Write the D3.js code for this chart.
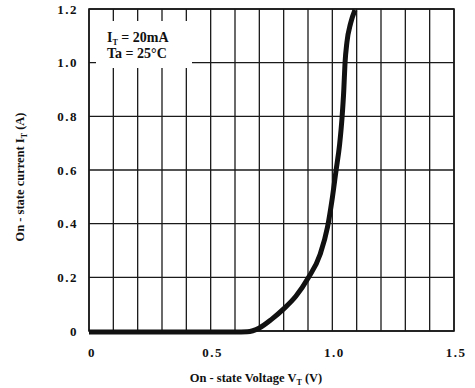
<!DOCTYPE html>
<html><head><meta charset="utf-8">
<script src="https://cdn.jsdelivr.net/npm/d3@7"></script>
<style>
html,body{margin:0;padding:0;background:#fff;}
</style></head>
<body>
<svg id="chart" width="475" height="388"></svg>
<script>
const voltage = [0, 0.3, 0.6, 0.65, 0.70, 0.75, 0.80, 0.85, 0.90, 0.95, 0.98, 1.00, 1.015, 1.03, 1.04, 1.047, 1.052, 1.06, 1.075, 1.093];
const current = [0, 0, 0, 0.001, 0.015, 0.047, 0.086, 0.133, 0.20, 0.29, 0.39, 0.50, 0.60, 0.70, 0.80, 0.90, 1.00, 1.08, 1.15, 1.20];
const xGrid = [0,0.1,0.2,0.3,0.4,0.5,0.6,0.7,0.8,0.9,1.0,1.1,1.2,1.3,1.4,1.5];
const yGrid = [0,0.2,0.4,0.6,0.8,1.0,1.2];
const xTickLabels = ["0","0.5","1.0","1.5"];
const xTickValues = [0,0.5,1.0,1.5];
const yTickLabels = ["0","0.2","0.4","0.6","0.8","1.0","1.2"];

const FONT = "'Liberation Serif', 'DejaVu Serif', 'Times New Roman', Times, serif";
const svg = d3.select("#chart");
const L=89, R=454, T=9, B=331;
const x = d3.scaleLinear().domain([0,1.5]).range([L,R]);
const y = d3.scaleLinear().domain([0,1.2]).range([B,T]);

const ink = "#1a1a1a";
svg.append("g").selectAll("line").data(xGrid).join("line")
  .attr("x1",d=>x(d)).attr("x2",d=>x(d)).attr("y1",T).attr("y2",B)
  .attr("stroke",ink).attr("stroke-width",1.3);
svg.append("g").selectAll("line").data(yGrid).join("line")
  .attr("x1",L).attr("x2",R).attr("y1",d=>y(d)).attr("y2",d=>y(d))
  .attr("stroke",ink).attr("stroke-width",1.3);
svg.append("rect").attr("x",L).attr("y",T).attr("width",R-L).attr("height",B-T)
  .attr("fill","none").attr("stroke",ink).attr("stroke-width",1.6);

svg.append("rect").attr("x",96).attr("y",21).attr("width",96).attr("height",47).attr("fill","#fff");
const ann = svg.append("text").attr("x",107).attr("y",42).attr("font-size",14)
  .attr("font-family",FONT).attr("font-weight","bold").attr("fill","#111");
ann.append("tspan").text("I");
ann.append("tspan").attr("font-size",8).attr("dy",3).text("T");
ann.append("tspan").attr("dy",-3).text(" = 20mA");
svg.append("text").attr("x",107).attr("y",58).attr("font-size",14)
  .attr("font-family",FONT).attr("font-weight","bold").attr("fill","#111").text("Ta = 25°C");

const pts = voltage.map((v,i)=>[v,current[i]]);
svg.append("path").datum(pts)
  .attr("d", d3.line().x(d=>x(d[0])).y(d=>y(d[1])+1).curve(d3.curveMonotoneX))
  .attr("fill","none").attr("stroke","#111").attr("stroke-width",5);

svg.append("g").selectAll("text").data(yGrid).join("text")
  .attr("x",78).attr("y",d=>y(d)+4.5).attr("text-anchor","end")
  .attr("font-family",FONT).attr("font-weight","bold").attr("fill","#111")
  .attr("font-size",13).attr("letter-spacing",1.5)
  .text((d,i)=>yTickLabels[i]);
svg.append("g").selectAll("text").data(xTickValues).join("text")
  .attr("x",(d,i)=>x(d)+(i===0?3:2)).attr("y",357).attr("text-anchor","middle")
  .attr("font-family",FONT).attr("font-weight","bold").attr("fill","#111")
  .attr("font-size",13).attr("letter-spacing",1.5)
  .text((d,i)=>xTickLabels[i]);

const xt = svg.append("text").attr("x",256).attr("y",382).attr("text-anchor","middle").attr("font-size",12.5)
  .attr("font-family",FONT).attr("font-weight","bold").attr("fill","#111");
xt.append("tspan").text("On - state Voltage V");
xt.append("tspan").attr("font-size",8).attr("dy",3).text("T");
xt.append("tspan").attr("dy",-3).text(" (V)");

const yt = svg.append("text").attr("transform","translate(24,177) rotate(-90)").attr("text-anchor","middle").attr("font-size",12.5)
  .attr("font-family",FONT).attr("font-weight","bold").attr("fill","#111");
yt.append("tspan").text("On - state current I");
yt.append("tspan").attr("font-size",8).attr("dy",3).text("T");
yt.append("tspan").attr("dy",-3).text(" (A)");
</script>
</body></html>
